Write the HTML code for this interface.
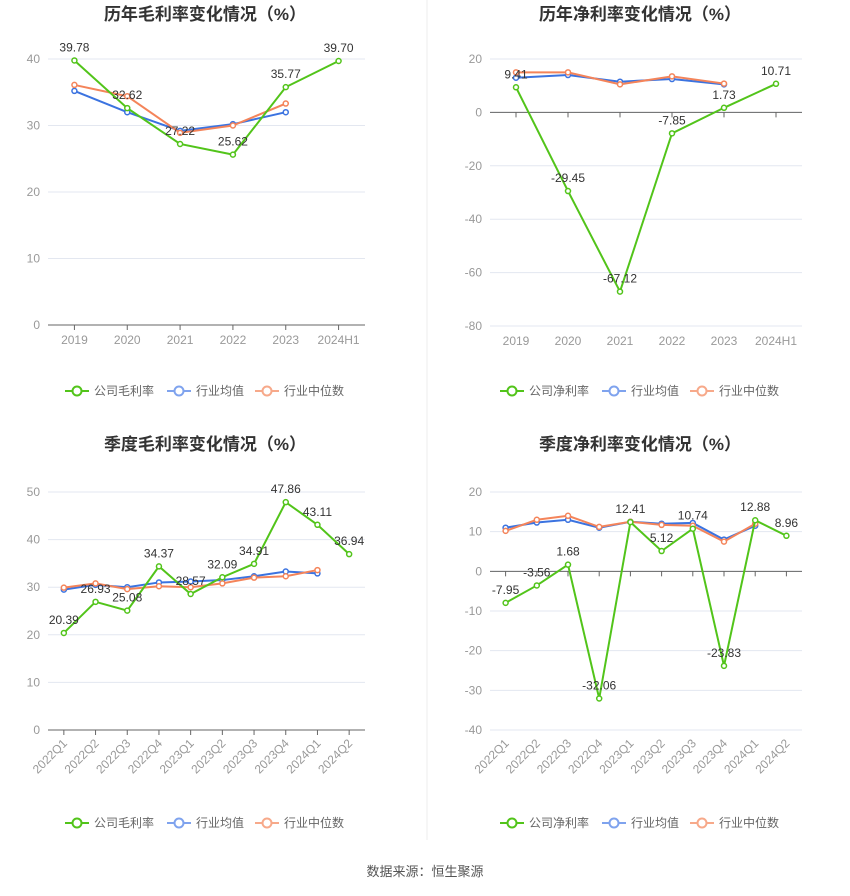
<!DOCTYPE html>
<html><head><meta charset="utf-8">
<style>
body{margin:0;background:#fff;font-family:"Liberation Sans","Noto Sans CJK SC",sans-serif;}
svg text{font-family:"Liberation Sans","Noto Sans CJK SC",sans-serif;}
</style></head>
<body>
<svg id="root" width="850" height="891" viewBox="0 0 850 891" xmlns="http://www.w3.org/2000/svg">
<line x1="427" y1="0" x2="427" y2="840" stroke="#eee"/>
<text x="425" y="876" text-anchor="middle" font-size="13" fill="#555">数据来源：恒生聚源</text>
</svg>
<script>
var yearCats=["2019","2020","2021","2022","2023","2024H1"];
var qCats=["2022Q1","2022Q2","2022Q3","2022Q4","2023Q1","2023Q2","2023Q3","2023Q4","2024Q1","2024Q2"];
var gmCompany=[39.78,32.62,27.22,25.62,35.77,39.70];
var gmAvg=[35.2,32.0,29.2,30.2,32.0];
var gmMed=[36.1,34.4,28.9,30.0,33.3];
var gmTicks=[0,10,20,30,40];
var npCompany=[9.41,-29.45,-67.12,-7.85,1.73,10.71];
var npAvg=[13,14,11.5,12.5,10.5];
var npMed=[15,15,10.5,13.5,10.8];
var npTicks=[-80,-60,-40,-20,0,20];
var qgmCompany=[20.39,26.93,25.08,34.37,28.57,32.09,34.91,47.86,43.11,36.94];
var qgmAvg=[29.5,30.5,30.0,31.0,31.2,31.5,32.3,33.3,32.9];
var qgmMed=[29.9,30.8,29.6,30.2,30.0,30.8,32.0,32.3,33.6];
var qgmTicks=[0,10,20,30,40,50];
var qnpCompany=[-7.95,-3.56,1.68,-32.06,12.41,5.12,10.74,-23.83,12.88,8.96];
var qnpAvg=[11,12.3,13,11,12.5,12,12.2,8,11.5];
var qnpMed=[10.2,13,14,11.2,12.5,11.7,11.5,7.5,12];
var qnpTicks=[-40,-30,-20,-10,0,10,20];

var NS="http://www.w3.org/2000/svg";
var root=document.getElementById('root');
function mk(tag,attrs,parent){var e=document.createElementNS(NS,tag);for(var k in attrs)e.setAttribute(k,attrs[k]);(parent||root).appendChild(e);return e;}

function chart(o){
  var g=mk('g',{});
  
  
  var t=mk('text',{x:o.cx,y:o.titleY,'text-anchor':'middle','font-size':17,'font-weight':'bold',fill:'#333'},g);
  t.textContent=o.title;
  
  
  var ymin=o.ticks[0],ymax=o.ticks[o.ticks.length-1];
  function Y(v){return o.yBot+(v-ymin)/(ymax-ymin)*(o.yTop-o.yBot);}
  var n=o.cats.length,step=(o.x1-o.x0)/n;
  function X(i){return o.x0+step*(i+0.5);}
  o.ticks.forEach(function(v){
    var l=mk('line',{x1:o.x0,x2:o.x1,y1:Y(v),y2:Y(v),stroke:'#e3e7f0'},g);
    
    
    var tt=mk('text',{x:o.x0-8,y:Y(v)+4,'text-anchor':'end','font-size':12,fill:'#999'},g);
    tt.textContent=v;
    
    
  });
  var ax=mk('line',{x1:o.x0,x2:o.x1,y1:Y(0),y2:Y(0),stroke:'#666'},g);
  
  
  var labY=o.yBot;
  o.cats.forEach(function(c,i){
    mk('line',{x1:X(i),x2:X(i),y1:Y(0),y2:Y(0)+5,stroke:'#666'},g);
    var tl;
    if(o.rot){tl=mk('text',{x:X(i)+4,y:labY+14,'text-anchor':'end','font-size':12,fill:'#999',transform:'rotate(-45 '+(X(i)+4)+' '+(labY+14)+')'},g);}
    else tl=mk('text',{x:X(i),y:labY+19,'text-anchor':'middle','font-size':12,fill:'#999'},g);
    tl.textContent=c;
    
    
  });
  function series(vals,color,nm,labels){
    var pts=vals.map(function(v,i){return X(i)+','+Y(v);}).join(' ');
    var pl=mk('polyline',{points:pts,fill:'none',stroke:color,'stroke-width':2},g);
    
    
    vals.forEach(function(v,i){
      var c=mk('circle',{cx:X(i),cy:Y(v),r:2.5,fill:'#fff',stroke:color,'stroke-width':1.5},g);
      
      
    });
  }
  series(o.avg,'#3b73e0','industry-avg');
  series(o.med,'#f4845a','industry-median');
  series(o.comp,'#52c41a','company');
  o.comp.forEach(function(v,i){
    var lt=mk('text',{x:X(i),y:Y(v)-9,'text-anchor':'middle','font-size':12,fill:'#333'},g);
    lt.textContent=v.toFixed(2);
    
    
  });
  var items=[[o.legName,'#52c41a'],['行业均值','#7fa3ee'],['行业中位数','#f7a98a']];
  var lx=o.cx-140, offs=[0,102,190];
  items.forEach(function(it,k){
    var x=lx+offs[k];
    var lg=mk('g',{},g);
    
    
    mk('line',{x1:x,x2:x+24,y1:o.legY,y2:o.legY,stroke:it[1],'stroke-width':2},lg);
    mk('circle',{cx:x+12,cy:o.legY,r:4.5,fill:'#fff',stroke:it[1],'stroke-width':2},lg);
    var tx=mk('text',{x:x+29,y:o.legY+4,'font-size':12,fill:'#666'},lg);
    tx.textContent=it[0];
  });
}
chart({name:'annual-gross-margin-chart',title:'历年毛利率变化情况（%）',cx:205,titleY:20,x0:48,x1:365,yTop:59,yBot:325,ticks:gmTicks,cats:yearCats,comp:gmCompany,avg:gmAvg,med:gmMed,legName:'公司毛利率',legY:391});
chart({name:'annual-net-margin-chart',title:'历年净利率变化情况（%）',cx:640,titleY:20,x0:490,x1:802,yTop:59,yBot:326,ticks:npTicks,cats:yearCats,comp:npCompany,avg:npAvg,med:npMed,legName:'公司净利率',legY:391});
chart({name:'quarterly-gross-margin-chart',title:'季度毛利率变化情况（%）',cx:205,titleY:450,x0:48,x1:365,yTop:492,yBot:730,ticks:qgmTicks,cats:qCats,comp:qgmCompany,avg:qgmAvg,med:qgmMed,legName:'公司毛利率',legY:823,rot:true});
chart({name:'quarterly-net-margin-chart',title:'季度净利率变化情况（%）',cx:640,titleY:450,x0:490,x1:802,yTop:492,yBot:730,ticks:qnpTicks,cats:qCats,comp:qnpCompany,avg:qnpAvg,med:qnpMed,legName:'公司净利率',legY:823,rot:true});
</script>
</body></html>
